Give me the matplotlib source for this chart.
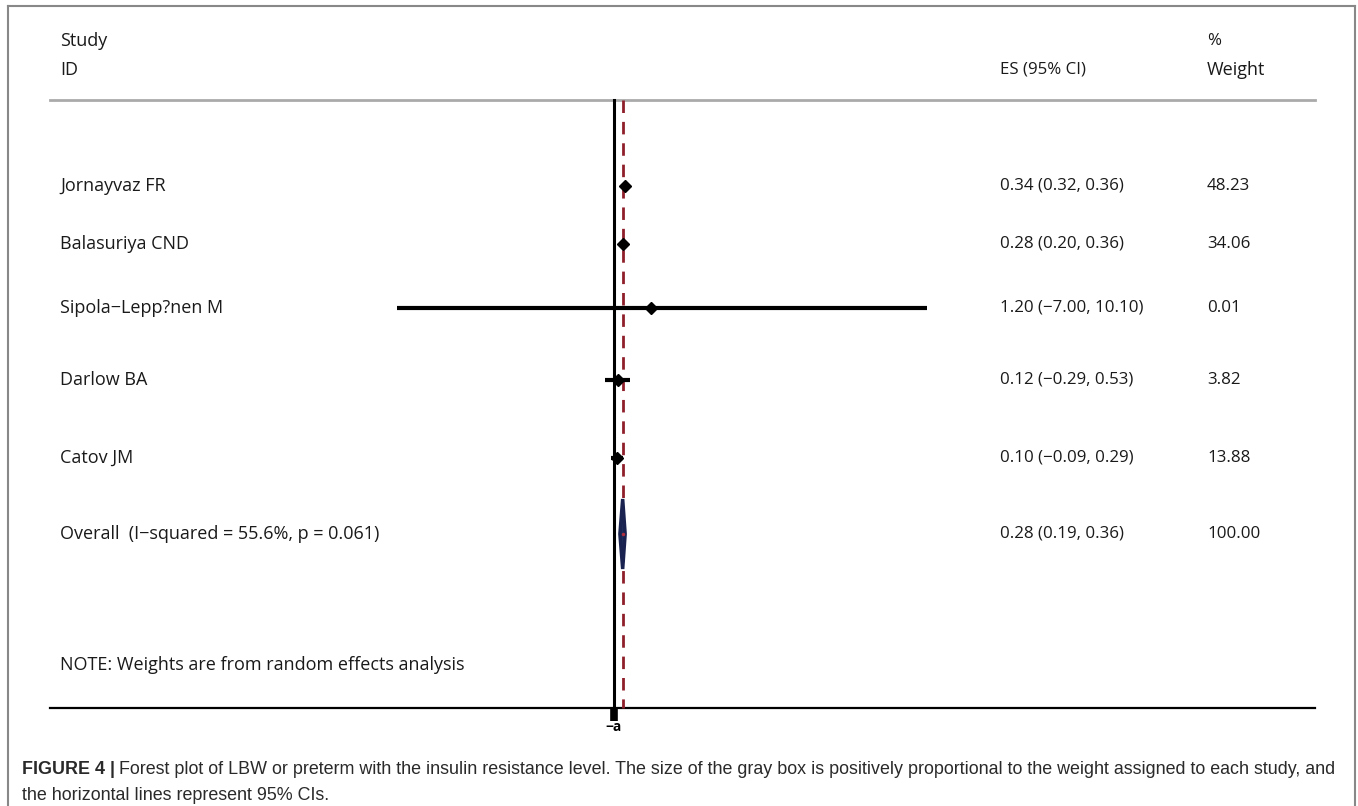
import matplotlib
matplotlib.use("Agg")
import matplotlib.pyplot as plt
from matplotlib.patches import Polygon
from matplotlib.lines import Line2D
from matplotlib.transforms import blended_transform_factory

# study data
studies = ["Jornayvaz FR", "Balasuriya CND", "Sipola\u2212Lepp?nen M", "Darlow BA", "Catov JM"]
es = [0.34, 0.28, 1.20, 0.12, 0.10]
lo = [0.32, 0.20, -7.00, -0.29, -0.09]
hi = [0.36, 0.36, 10.10, 0.53, 0.29]
weights = ["48.23", "34.06", "0.01", "3.82", "13.88"]

overall_label = "Overall  (I\u2212squared = 55.6%, p = 0.061)"
overall_es, overall_lo, overall_hi = 0.28, 0.19, 0.36
overall_weight = "100.00"

W, H = 1358, 806
fig = plt.figure(figsize=(W / 100, H / 100), dpi=100)
ax = fig.add_axes([0, 0, 1, 1])
# x: effect size, 0 sits at px 614, ~31 px per unit; y: rows in pixel units
ax.set_xlim(-614 / 31, (W - 614) / 31)
ax.set_ylim(H, 0)
ax.axis("off")

font = "Open Sans"
fx = blended_transform_factory(fig.transFigure, ax.transData)
def col(x):
    return x / W

row_y = [186, 244, 308, 380, 458]
overall_y = 534
lab = dict(fontsize=13, family=font, color="#1a1a1a", va="center", transform=fx)
num = dict(fontsize=12.2, family=font, color="#1a1a1a", va="center", transform=fx)

# header
ax.text(col(60), 41, "Study", **lab)
ax.text(col(60), 70, "ID", **lab)
ax.text(col(1000), 70, "ES (95% CI)", **num)
ax.text(col(1207), 41, "%", **num)
ax.text(col(1207), 70, "Weight", **lab)

ax.plot([col(50), col(1315)], [100, 100], color="#aaaaaa", lw=2, transform=fx)
ax.plot([col(50), col(1315)], [708, 708], color="black", lw=1.6, transform=fx)

# reference lines
ax.plot([0, 0], [100, 708], color="black", lw=2.2)
ax.plot([overall_es, overall_es], [100, 708], color="#8e1f2a", lw=2.0,
        ls=(0, (4.5, 3.2)), zorder=2)

for name, e, l, h, w, y in zip(studies, es, lo, hi, weights, row_y):
    ax.plot([l, h], [y, y], color="black", lw=3, solid_capstyle="butt", zorder=3)
    ax.plot(e, y, marker="D", color="black", ms=6.5, zorder=4)
    ax.text(col(60), y, name, **lab)
    ax.text(col(1000), y, f"{e:.2f} ({l:.2f}, {h:.2f})".replace("-", "\u2212"), **num)
    ax.text(col(1207), y, w, **num)

# overall diamond
dia = Polygon([[overall_lo, overall_y], [overall_es, overall_y - 35],
               [overall_hi, overall_y], [overall_es, overall_y + 35]],
              closed=True, facecolor="#1f2d5c", edgecolor="#1a2350", lw=2.5, zorder=4)
ax.add_patch(dia)
ax.plot(overall_es, overall_y, marker="o", color="#b03040", ms=1.5, zorder=5)
ax.text(col(60), overall_y, overall_label, **lab)
ax.text(col(1000), overall_y, f"{overall_es:.2f} ({overall_lo:.2f}, {overall_hi:.2f})", **num)
ax.text(col(1207), overall_y, overall_weight, **num)

ax.text(col(60), 665, "NOTE: Weights are from random effects analysis", **lab)

# axis tick at zero
ax.plot([0, 0], [709, 721], color="black", lw=5.5, solid_capstyle="butt")
ax.text(0, 727, "\u2212a", fontsize=10, family=font, fontweight="bold",
        ha="center", va="center", color="black")

# frame
fr = "#888888"
fig.add_artist(Line2D([8 / W, 1355 / W], [1 - 6 / H, 1 - 6 / H], color=fr, lw=1.5))
fig.add_artist(Line2D([8 / W, 8 / W], [0, 1 - 6 / H], color=fr, lw=1.5))
fig.add_artist(Line2D([1355 / W, 1355 / W], [0, 1 - 6 / H], color=fr, lw=1.5))

# caption
cap = dict(fontsize=12.9, family="Liberation Sans", color="#2a2a2a", va="center")
t1 = fig.text(22 / W, 1 - 770 / H, "FIGURE 4 |", fontweight="bold", **cap)
fig.canvas.draw()
bb = t1.get_window_extent()
fig.text((bb.x1 + 4) / W, 1 - 770 / H,
         "Forest plot of LBW or preterm with the insulin resistance level. The size of the gray box is "
         "positively proportional to the weight assigned to each study, and", **cap)
fig.text(22 / W, 1 - 796 / H, "the horizontal lines represent 95% CIs.", **cap)

fig.savefig("out.png", dpi=100)
